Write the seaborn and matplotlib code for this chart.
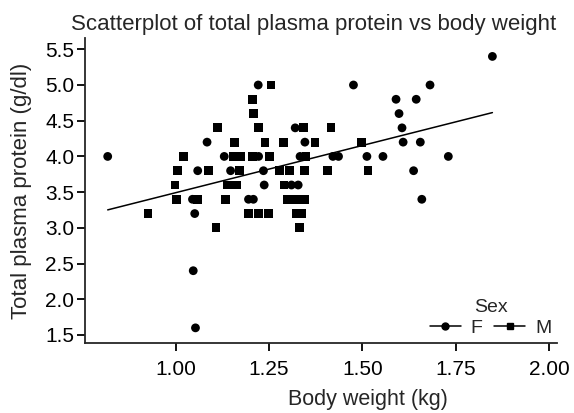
import pandas as pd
import matplotlib.pyplot as plt
import seaborn as sns
from matplotlib.lines import Line2D

# ----------------------------
# DATA
# ----------------------------
female_weight = [0.818, 1.084, 1.130, 1.059, 1.147, 1.045, 1.195, 1.208, 1.051, 1.047,
                 1.053, 1.221, 1.476, 1.320, 1.346, 1.222, 1.333, 1.421, 1.436, 1.512,
                 1.235, 1.310, 1.328, 1.237, 1.848, 1.681, 1.590, 1.644, 1.598, 1.606,
                 1.609, 1.655, 1.555, 1.730, 1.637, 1.659]
female_protein = [4.0, 4.2, 4.0, 3.8, 3.8, 3.4, 3.4, 3.4, 3.2, 2.4,
                  1.6, 5.0, 5.0, 4.4, 4.2, 4.0, 4.0, 4.0, 4.0, 4.0,
                  3.8, 3.6, 3.6, 3.6, 5.4, 5.0, 4.8, 4.8, 4.6, 4.4,
                  4.2, 4.2, 4.0, 4.0, 3.8, 3.4]

male_weight = [1.113, 1.157, 1.020, 1.154, 1.175, 1.205, 1.252, 1.349, 1.005, 1.087,
               1.170, 0.998, 1.138, 1.163, 1.003, 1.058, 1.134, 0.926, 1.195, 1.222,
               1.248, 1.108, 1.205, 1.209, 1.255, 1.221, 1.342, 1.416, 1.239, 1.288,
               1.373, 1.497, 1.277, 1.305, 1.345, 1.406, 1.515, 1.290, 1.300, 1.315,
               1.330, 1.345, 1.322, 1.338, 1.331]
male_protein = [4.4, 4.2, 4.0, 4.0, 4.0, 4.0, 4.0, 4.0, 3.8, 3.8,
                3.8, 3.6, 3.6, 3.6, 3.4, 3.4, 3.4, 3.2, 3.2, 3.2,
                3.2, 3.0, 4.8, 4.6, 5.0, 4.4, 4.4, 4.4, 4.2, 4.2,
                4.2, 4.2, 3.8, 3.8, 3.8, 3.8, 3.8, 3.6, 3.4, 3.4,
                3.4, 3.4, 3.2, 3.2, 3.0]

x_ticks = [1.00, 1.25, 1.50, 1.75, 2.00]
y_ticks = [1.5, 2.0, 2.5, 3.0, 3.5, 4.0, 4.5, 5.0, 5.5]

df = pd.DataFrame({
    "weight": female_weight + male_weight,
    "protein": female_protein + male_protein,
    "Sex": ["F"] * len(female_weight) + ["M"] * len(male_weight),
})

# ----------------------------
# PLOT
# ----------------------------
sns.set_style("ticks")
plt.rcParams["font.family"] = ["Liberation Sans", "DejaVu Sans"]

fig, ax = plt.subplots(figsize=(5.74, 4.13), dpi=100)
fig.subplots_adjust(left=0.1486, right=0.9704, top=0.908, bottom=0.1695)

sns.scatterplot(data=df, x="weight", y="protein", style="Sex",
                markers={"F": "o", "M": "s"}, color="black", s=40,
                edgecolor="none", legend=False, ax=ax)
sns.regplot(data=df, x="weight", y="protein", scatter=False, ci=None,
            truncate=True, color="black", line_kws={"linewidth": 1.1}, ax=ax)

ax.set_xlim(0.758, 2.021)
ax.set_ylim(1.388, 5.658)
ax.set_xticks(x_ticks)
ax.set_xticklabels([f"{t:.2f}" for t in x_ticks])
ax.set_yticks(y_ticks)
ax.set_yticklabels([f"{t:.1f}" for t in y_ticks])
ax.tick_params(labelsize=15, length=5.5, width=1.3, colors="black")
ax.tick_params(axis="x", pad=7)
ax.tick_params(axis="y", pad=2.5)
for side in ["left", "bottom"]:
    ax.spines[side].set_linewidth(1.3)
sns.despine(ax=ax)

ax.set_xlabel("Body weight (kg)", fontsize=15.5)
ax.xaxis.set_label_coords(0.6, -0.15)
ax.set_ylabel("Total plasma protein (g/dl)", fontsize=16)
ax.yaxis.set_label_coords(-0.112, 0.5)
fig.text(0.546, 0.927, "Scatterplot of total plasma protein vs body weight",
         ha="center", va="baseline", fontsize=16)

handles = [Line2D([0], [0], color="black", lw=1.1, marker="o", markersize=5),
           Line2D([0], [0], color="black", lw=1.1, marker="s", markersize=5)]
ax.legend(handles, ["F", "M"], title="Sex", ncol=2, loc="lower right",
          frameon=False, fontsize=14, title_fontsize=14, handlelength=1.6,
          handletextpad=0.5, columnspacing=0.6, borderaxespad=0.2,
          borderpad=0.1, labelspacing=0.2)

plt.savefig("out.png", dpi=100)
